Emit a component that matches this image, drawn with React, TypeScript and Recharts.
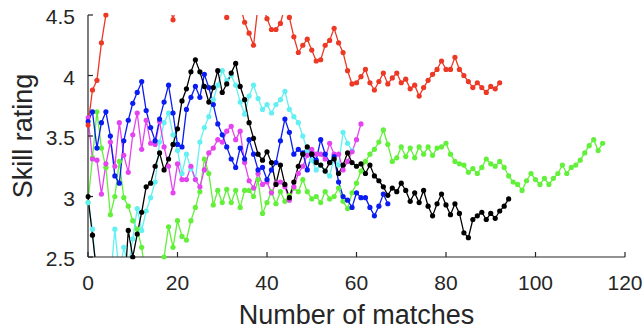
import React from 'react';
import { LineChart, Line, XAxis, YAxis } from 'recharts';

// Skill rating per match for six players (index = match number).
const RED = [
  3.59, 3.88, 3.96, 4.27, 4.5, 4.7, 4.8, 4.85, 4.9, 4.85, 4.9, 4.95, 4.9, 4.85, 4.8, 4.8, 4.75, 4.7, 4.62, 4.46,
  4.62, 4.7, 4.75, 4.8, 4.8, 4.85, 4.85, 4.8, 4.85, 4.8, 4.75, 4.48, 4.75, 4.7, 4.58, 4.44, 4.35, 4.25, 4.58, 4.6,
  4.47, 4.38, 4.38, 4.43, 4.57, 4.48, 4.32, 4.19, 4.25, 4.3, 4.21, 4.12, 4.13, 4.25, 4.29, 4.39, 4.27, 4.19, 4.04, 3.93,
  3.94, 3.99, 4.05, 3.94, 3.88, 3.95, 4.02, 3.93, 3.98, 4.02, 3.94, 3.97, 3.89, 3.92, 3.83, 3.9, 3.96, 4.01, 4.05, 4.12,
  4.05, 4.05, 4.15, 4.05, 4.0, 3.95, 3.9, 3.94, 3.9, 3.86, 3.91, 3.89, 3.94,
];
const BLACK = [
  3.0, 2.68, 2.35, 2.3, 2.3, 2.35, 2.3, 2.3, 2.15, 2.72, 2.5, 2.69, 2.87, 3.08, 3.11, 3.25, 3.36, 3.22, 3.31, 3.43,
  3.56, 3.79, 3.89, 4.03, 4.13, 4.03, 3.91, 3.78, 3.9, 4.04, 3.86, 3.93, 4.02, 4.1, 3.91, 3.8, 3.61, 3.48, 3.35, 3.3,
  3.37, 3.28, 3.1, 3.26, 3.1, 2.99, 3.12, 3.25, 3.35, 3.41, 3.35, 3.28, 3.26, 3.21, 3.28, 3.31, 3.19, 3.26, 3.36, 3.28,
  3.25, 3.27, 3.19, 3.26, 3.17, 3.13, 3.08, 3.01, 3.07, 3.04, 3.11, 3.05, 2.96, 3.03, 2.95, 3.05, 2.92, 2.84, 2.94, 3.02,
  2.93, 2.85, 2.94, 2.86, 2.7, 2.66, 2.81, 2.84, 2.87, 2.81, 2.86, 2.82, 2.88, 2.92, 2.98,
];
const GREEN = [
  2.95, 3.32, 3.7, 3.4, 3.24, 2.85, 3.0, 3.29, 2.99, 2.92, 2.8, 2.73, 2.58, 2.3, 2.2, 2.25, 2.3, 2.5, 2.75, 2.58,
  2.8, 2.67, 2.64, 2.8, 2.91, 3.04, 3.31, 3.19, 2.93, 3.05, 2.95, 3.06, 2.95, 3.05, 2.91, 3.05, 3.05, 3.0, 3.14, 2.86,
  2.95, 3.04, 2.94, 3.04, 2.96, 3.01, 3.07, 3.04, 3.14, 3.04, 2.98, 3.0, 2.95, 3.04, 2.98, 3.0, 3.07, 2.96, 2.9, 3.03,
  3.11, 3.21, 3.29, 3.35, 3.39, 3.45, 3.55, 3.43, 3.29, 3.32, 3.41, 3.33, 3.4, 3.32, 3.41, 3.35, 3.41, 3.34, 3.4, 3.41,
  3.44, 3.35, 3.29, 3.27, 3.26, 3.2, 3.23, 3.19, 3.24, 3.31, 3.27, 3.25, 3.29, 3.24, 3.17, 3.12, 3.1, 3.05, 3.13, 3.19,
  3.14, 3.1, 3.15, 3.1, 3.15, 3.19, 3.26, 3.19, 3.24, 3.26, 3.3, 3.36, 3.42, 3.47, 3.38, 3.44,
];
const CYAN = [
  2.95, 2.73, 2.3, 2.2, 2.25, 2.3, 2.73, 2.35, 2.58, 2.42, 2.65, 2.9, 2.72, 2.88, 2.99, 3.12, 3.45, 3.61, 3.69, 3.51,
  3.38, 3.19, 3.35, 3.23, 3.14, 3.45, 3.57, 3.66, 3.8, 3.92, 4.04, 3.96, 4.0, 3.92, 3.78, 3.68, 3.83, 3.92, 3.81, 3.72,
  3.76, 3.69, 3.76, 3.8, 3.87, 3.72, 3.66, 3.61, 3.5, 3.38, 3.3, 3.22, 3.26, 3.21, 3.17, 3.32, 3.26, 3.53, 3.44, 3.38,
];
const BLUE = [
  3.62, 3.7, 3.4, 3.61, 3.7, 3.5, 3.17, 3.11, 3.46, 3.63, 3.77, 3.86, 3.95, 3.71, 3.57, 3.46, 3.64, 3.78, 3.92, 3.69,
  3.43, 3.41, 3.72, 3.82, 3.91, 3.82, 4.01, 3.9, 3.76, 3.6, 3.51, 3.41, 3.31, 3.24, 3.4, 3.31, 3.47, 3.35, 3.22, 3.24,
  3.14, 3.22, 3.28, 3.46, 3.64, 3.53, 3.35, 3.39, 3.36, 3.22, 3.35, 3.3, 3.47, 3.35, 3.28, 3.33, 3.12, 3.0, 2.97, 2.91,
  3.03, 2.99, 2.99, 2.91, 2.84, 2.92, 3.02, 2.94,
];
const MAGENTA = [
  3.65, 3.31, 3.3, 3.02, 3.27, 3.45, 3.25, 3.61, 3.34, 3.2, 3.51, 3.69, 3.39, 3.63, 3.44, 3.43, 3.62, 3.41, 3.25, 3.03,
  3.27, 3.14, 3.14, 3.25, 3.14, 3.08, 3.22, 3.36, 3.4, 3.47, 3.45, 3.54, 3.58, 3.47, 3.54, 3.28, 3.13, 3.07, 3.19, 3.1,
  3.12, 3.03, 3.11, 3.12, 3.08, 2.97, 3.08, 3.19, 3.25, 3.34, 3.39, 3.35, 3.35, 3.31, 3.44, 3.35, 3.35, 3.22, 3.29, 3.37,
  3.47, 3.6,
];

const X_TICKS = [0, 20, 40, 60, 80, 100, 120];
const Y_TICKS = [2.5, 3, 3.5, 4, 4.5];

const FONT = '"Liberation Sans", Arial, Helvetica, sans-serif';
const AXIS = '#262626';

// drawing order: last one ends up on top
const SERIES = [
  { name: 'green', color: '#62F03A', values: GREEN },
  { name: 'cyan', color: '#62F0F2', values: CYAN },
  { name: 'magenta', color: '#E444F0', values: MAGENTA },
  { name: 'blue', color: '#0A1CF2', values: BLUE },
  { name: 'red', color: '#EC3824', values: RED },
  { name: 'black', color: '#000000', values: BLACK },
];

const toPoints = (vals: number[]) => vals.map((y, x) => ({ x, y }));

function YTitle({ viewBox }: any) {
  const cx = viewBox.x + 32;
  const cy = viewBox.y + viewBox.height / 2;
  return (
    <text x={cx} y={cy} transform={`rotate(-90, ${cx}, ${cy})`} textAnchor="middle" fontFamily={FONT} fontSize={27} fill={AXIS}>
      Skill rating
    </text>
  );
}

function XTitle({ viewBox }: any) {
  const cx = viewBox.x + viewBox.width / 2;
  return (
    <text x={cx} y={viewBox.y + 67} textAnchor="middle" fontFamily={FONT} fontSize={27} fill={AXIS}>
      Number of matches
    </text>
  );
}

export default function App() {
  return (
    <div style={{ position: 'absolute', left: 0, top: 0, width: 644, height: 330, background: '#fff' }}>
      <LineChart width={644} height={330} margin={{ top: 15, right: 19, bottom: 0, left: 0 }}>
        <XAxis
          type="number"
          dataKey="x"
          domain={[0, 120]}
          ticks={X_TICKS}
          interval={0}
          allowDataOverflow
          height={73}
          tickSize={-5}
          tickMargin={23}
          stroke={AXIS}
          axisLine={{ stroke: AXIS, strokeWidth: 1.2 }}
          tickLine={{ stroke: AXIS, strokeWidth: 1.2 }}
          tick={{ fill: AXIS, fontSize: 21, fontFamily: FONT }}
          label={<XTitle />}
        />
        <YAxis
          type="number"
          domain={[2.5, 4.5]}
          ticks={Y_TICKS}
          interval={0}
          allowDataOverflow
          width={88}
          tickSize={-5}
          tickMargin={18}
          stroke={AXIS}
          axisLine={{ stroke: AXIS, strokeWidth: 1.2 }}
          tickLine={{ stroke: AXIS, strokeWidth: 1.2 }}
          tick={{ fill: AXIS, fontSize: 21, fontFamily: FONT, dy: 2 }}
          label={<YTitle />}
        />
        {SERIES.map((s) => (
          <Line
            key={s.name}
            data={toPoints(s.values)}
            dataKey="y"
            type="linear"
            stroke={s.color}
            strokeWidth={1.3}
            dot={{ r: 2.6, fill: s.color, stroke: s.color, strokeWidth: 0, clipDot: false }}
            activeDot={false}
            isAnimationActive={false}
          />
        ))}
      </LineChart>
    </div>
  );
}
